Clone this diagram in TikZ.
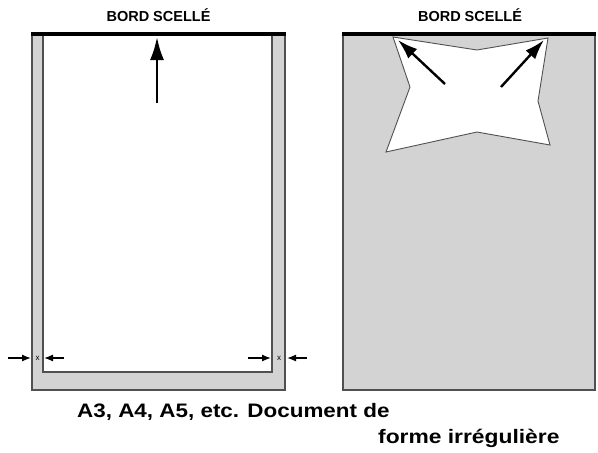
\documentclass[tikz,border=0pt]{standalone}
\usepackage{fontspec}
\usepackage{graphicx}
\setmainfont{Liberation Sans}
\usetikzlibrary{arrows.meta}
\definecolor{sheetgray}{HTML}{D3D3D3}
\definecolor{edgegray}{HTML}{505050}
\tikzset{
  sheet/.style={draw=edgegray, line width=1.3pt, fill=sheetgray, inner sep=0pt},
  inner/.style={draw=edgegray, line width=1.1pt, fill=white, inner sep=0pt},
  sealbar/.style={line width=4pt, black},
  bigarrow/.style={line width=2.6pt, -{Latex[length=23pt,width=14pt]}},
  midarrow/.style={line width=2.4pt, -{Latex[length=20pt,width=13pt]}},
  dimarrow/.style={line width=1.3pt, -{Latex[length=9pt,width=7pt]}},
  title/.style={font=\bfseries\fontsize{14.5}{17}\selectfont, anchor=base, inner sep=0pt},
  caption/.style={font=\bfseries\fontsize{19.5}{22}\selectfont, anchor=base west, inner sep=0pt},
  xmark/.style={font=\fontsize{8}{9}\selectfont, inner sep=0pt}
}
\begin{document}
\begin{tikzpicture}[x=1pt,y=-1pt]
\useasboundingbox (0,0) rectangle (598,453);
% left sheet
\node[sheet, minimum width=253pt, minimum height=357pt] (lsheet) at (158.5,211.5) {};
\node[inner, minimum width=229pt, minimum height=337pt] (lpage) at (157.5,203.5) {};
\coordinate (lbarA) at (31,34);
\coordinate (lbarB) at (286,34);
\draw[sealbar] (lbarA) -- (lbarB);
\node[title] (ltitle) at (158.5,21) {BORD SCELLÉ};
\coordinate (upfrom) at (157,103);
\coordinate (upto) at (157,37);
\draw[bigarrow] (upfrom) -- (upto);
% dimension marks
\node[xmark] (xl) at (37.5,358) {x};
\node[xmark] (xr) at (279,358) {x};
\coordinate (dl1) at (8,358);
\coordinate (dl1t) at (31,358);
\coordinate (dl2) at (64,358);
\coordinate (dl2t) at (44,358);
\coordinate (dr1) at (248,358);
\coordinate (dr1t) at (271,358);
\coordinate (dr2) at (307,358);
\coordinate (dr2t) at (287,358);
\draw[dimarrow] (dl1) -- (dl1t);
\draw[dimarrow] (dl2) -- (dl2t);
\draw[dimarrow] (dr1) -- (dr1t);
\draw[dimarrow] (dr2) -- (dr2t);
% right sheet
\node[sheet, minimum width=252pt, minimum height=357pt] (rsheet) at (469,211.5) {};
\coordinate (rbarA) at (342,34);
\coordinate (rbarB) at (596,34);
\draw[sealbar] (rbarA) -- (rbarB);
\node[title] (rtitle) at (470,21) {BORD SCELLÉ};
\draw[draw=edgegray, line width=0.9pt, fill=white]
  (393,37) -- (477,50) -- (548,38) -- (538,101) -- (550,145)
  -- (477,132) -- (386,152) -- (410,87) -- cycle;
\coordinate (la) at (445,84);
\coordinate (lat) at (398,40);
\coordinate (ra) at (501,87);
\coordinate (rat) at (544,40);
\draw[midarrow] (la) -- (lat);
\draw[midarrow] (ra) -- (rat);
% captions
\node[caption] (cap1) at (77,417) {\scalebox{1.15}[1]{A3, A4, A5, etc. Document de}};
\node[caption] (cap2) at (378,443) {\scalebox{1.17}[1]{forme irrégulière}};
\end{tikzpicture}
\end{document}
